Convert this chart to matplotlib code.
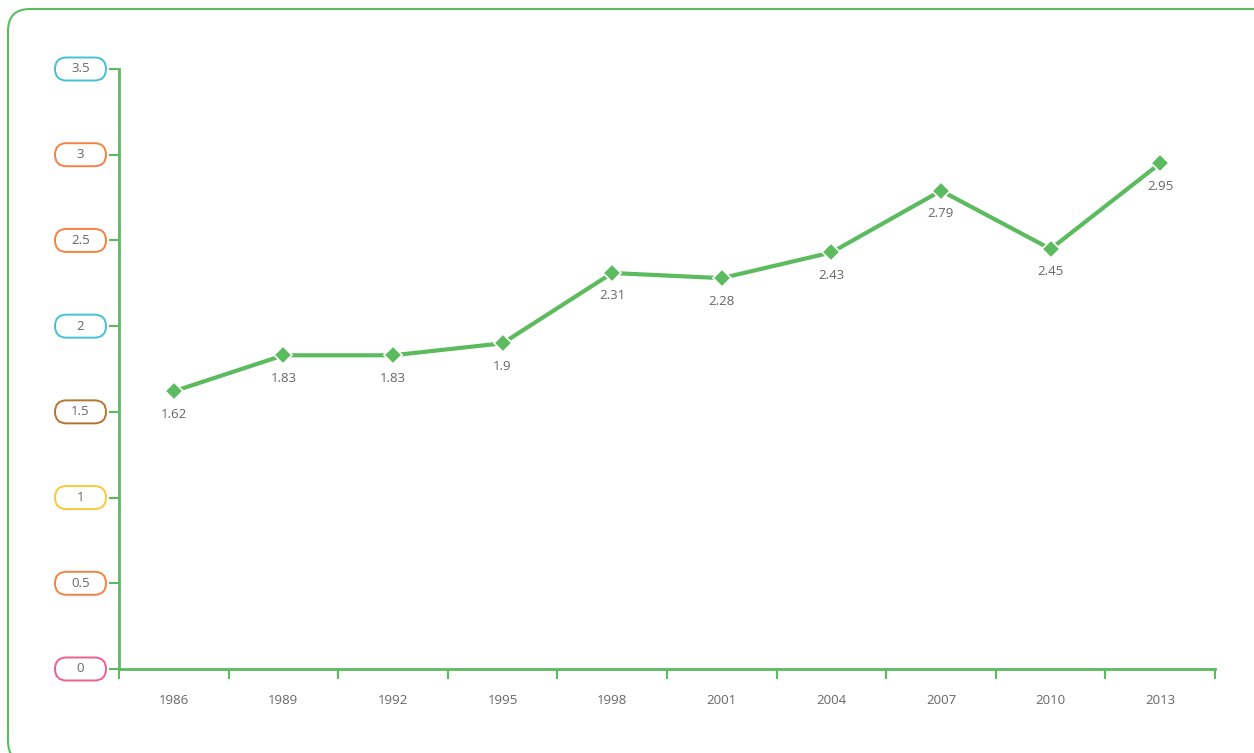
import matplotlib.pyplot as plt
from matplotlib.patches import FancyBboxPatch
from matplotlib.transforms import IdentityTransform

# data
years = ["1986", "1989", "1992", "1995", "1998", "2001", "2004", "2007", "2010", "2013"]
values = [1.62, 1.83, 1.83, 1.9, 2.31, 2.28, 2.43, 2.79, 2.45, 2.95]
yticks = [0, 0.5, 1, 1.5, 2, 2.5, 3, 3.5]
ytick_labels = ["0", "0.5", "1", "1.5", "2", "2.5", "3", "3.5"]
pill_colors = ["#ec5f8f", "#f38243", "#fcc838", "#b8742f", "#46c1d1", "#f38243", "#f38243", "#46c1d1"]

green = "#5cbb5f"
text_gray = "#666666"
plt.rcParams['font.family'] = ['Open Sans', 'DejaVu Sans']

W, H = 1254, 753
fig = plt.figure(figsize=(W / 100, H / 100), dpi=100)
ax = fig.add_axes([119 / W, (H - 669) / H, (1215 - 119) / W, 600 / H])

x = list(range(len(years)))
ax.plot(x, values, color=green, lw=3, marker="D", ms=9,
        markerfacecolor=green, markeredgecolor="white", markeredgewidth=1.2, zorder=3)
for xi, v in zip(x, values):
    ax.annotate(f"{v:g}", (xi, v), xytext=(0, -16.5), textcoords="offset points",
                ha="center", va="center", fontsize=9.5, color=text_gray)

ax.set_xlim(-0.5, len(years) - 0.5)
ax.set_ylim(0, 3.5)
ax.set_xticks([i - 0.5 for i in range(len(years) + 1)])
ax.set_xticklabels([])
ax.set_xticks(x, minor=True)
ax.set_xticklabels(years, minor=True)
ax.tick_params(axis="x", which="major", length=7, width=1.5, color=green, direction="out")
ax.tick_params(axis="x", which="minor", length=0, pad=18, labelsize=9.5, labelcolor=text_gray)
ax.set_yticks(yticks)
ax.set_yticklabels([])
ax.tick_params(axis="y", length=7, width=1.5, color=green, direction="out")

for s in ["top", "right"]:
    ax.spines[s].set_visible(False)
for s in ["left", "bottom"]:
    ax.spines[s].set_color(green)
    ax.spines[s].set_linewidth(2)

# pill-shaped y tick labels
fig.canvas.draw()
for v, lab, c in zip(yticks, ytick_labels, pill_colors):
    _, yd = ax.transData.transform((0, v))
    pill = FancyBboxPatch((55 + 11.5, yd - 0.005), 51 - 23, 0.01,
                          boxstyle="round,pad=11.5,rounding_size=11.5",
                          transform=IdentityTransform(), fill=False,
                          edgecolor=c, lw=1.4)
    fig.patches.append(pill)
    fig.text(80.5 / W, yd / H, lab, ha="center", va="center",
             fontsize=9.5, color=text_gray)

# outer rounded frame (right and bottom edges run off the canvas)
r = 22
frame = FancyBboxPatch((8 + r, -10 + r), 1275 - 2 * r, 754 - 2 * r,
                       boxstyle=f"round,pad={r},rounding_size={r}",
                       transform=IdentityTransform(), fill=False,
                       edgecolor=green, lw=1.5)
fig.patches.append(frame)

fig.savefig("out.png", dpi=100)
